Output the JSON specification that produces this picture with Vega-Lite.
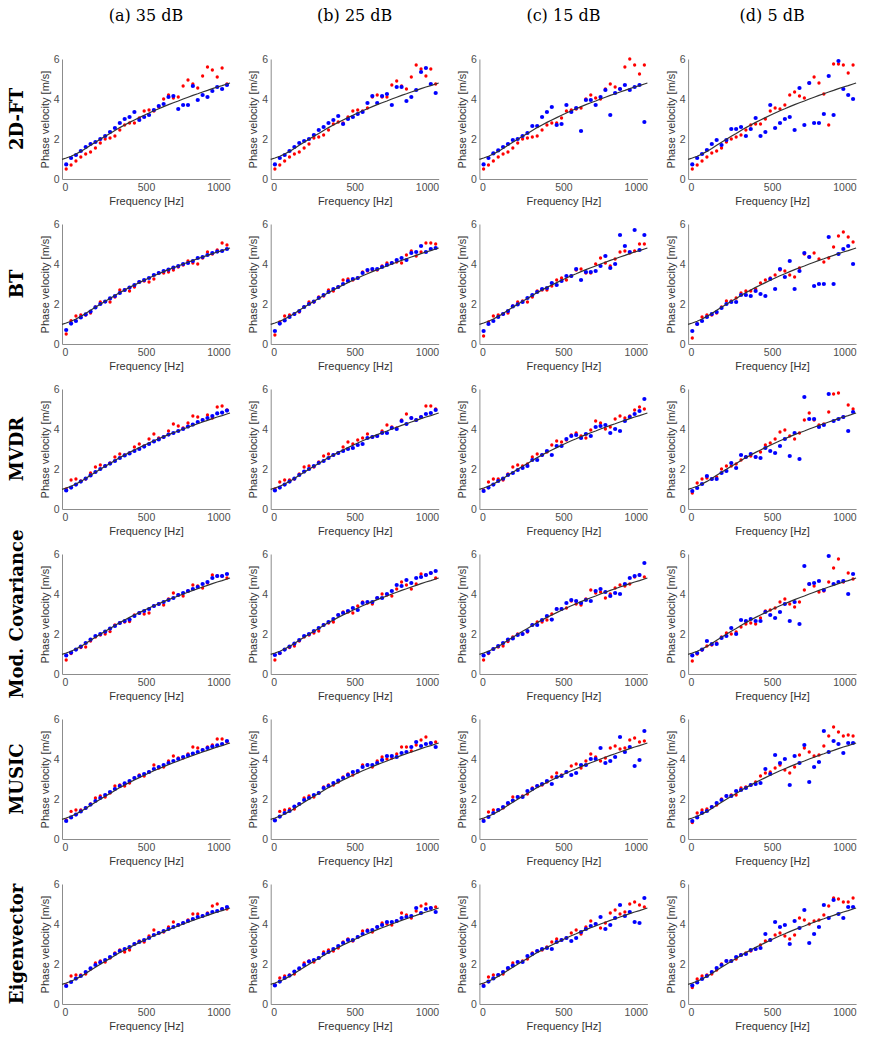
{
"$schema":"https://vega.github.io/schema/vega-lite/v6.json",
"background":"white",
"padding":{"left":8,"top":8,"right":5,"bottom":5},
"datasets":{
"curve":[{"f":0,"c":0.98},{"f":25,"c":1.05},{"f":54,"c":1.14},{"f":83,"c":1.25},{"f":112,"c":1.38},{"f":141,"c":1.53},{"f":170,"c":1.69},{"f":199,"c":1.84},{"f":228,"c":1.99},{"f":257,"c":2.14},{"f":286,"c":2.28},{"f":315,"c":2.43},{"f":344,"c":2.57},{"f":373,"c":2.70},{"f":402,"c":2.83},{"f":431,"c":2.95},{"f":460,"c":3.07},{"f":489,"c":3.19},{"f":518,"c":3.30},{"f":547,"c":3.41},{"f":576,"c":3.51},{"f":605,"c":3.62},{"f":634,"c":3.72},{"f":663,"c":3.81},{"f":692,"c":3.90},{"f":721,"c":4.00},{"f":750,"c":4.09},{"f":779,"c":4.18},{"f":808,"c":4.26},{"f":837,"c":4.35},{"f":866,"c":4.43},{"f":895,"c":4.52},{"f":924,"c":4.60},{"f":953,"c":4.67},{"f":982,"c":4.75},{"f":1000,"c":4.8}],
"pts":[
{"m":1,"s":1,"f":0},{"m":1,"s":1,"f":1000},
{"m":1,"s":1,"f":25,"r":0.5,"b":0.73},{"m":1,"s":1,"f":54,"r":0.7,"b":1.05},{"m":1,"s":1,"f":83,"r":0.9,"b":1.2},{"m":1,"s":1,"f":112,"r":1.1,"b":1.4},{"m":1,"s":1,"f":141,"r":1.25,"b":1.6},{"m":1,"s":1,"f":170,"r":1.35,"b":1.75},{"m":1,"s":1,"f":199,"r":1.55,"b":1.85},{"m":1,"s":1,"f":228,"r":1.8,"b":2.0},{"m":1,"s":1,"f":257,"r":2.0,"b":2.15},{"m":1,"s":1,"f":286,"r":2.05,"b":2.35},{"m":1,"s":1,"f":315,"r":2.15,"b":2.55},{"m":1,"s":1,"f":344,"r":2.45,"b":2.8},{"m":1,"s":1,"f":373,"r":2.7,"b":3.0},{"m":1,"s":1,"f":402,"r":2.8,"b":3.1},{"m":1,"s":1,"f":431,"r":2.8,"b":3.35},{"m":1,"s":1,"f":460,"r":3.05,"b":2.95},{"m":1,"s":1,"f":489,"r":3.4,"b":3.1},{"m":1,"s":1,"f":518,"r":3.45,"b":3.2},{"m":1,"s":1,"f":547,"r":3.4,"b":3.45},{"m":1,"s":1,"f":576,"r":3.6,"b":3.65},{"m":1,"s":1,"f":605,"r":4.0,"b":3.75},{"m":1,"s":1,"f":634,"r":4.2,"b":4.1},{"m":1,"s":1,"f":663,"r":4.05,"b":4.15},{"m":1,"s":1,"f":692,"r":4.1,"b":3.5},{"m":1,"s":1,"f":721,"r":4.65,"b":3.7},{"m":1,"s":1,"f":750,"r":4.95,"b":3.7},{"m":1,"s":1,"f":779,"r":4.75,"b":4.65},{"m":1,"s":1,"f":808,"r":4.55,"b":3.95},{"m":1,"s":1,"f":837,"r":5.15,"b":4.2},{"m":1,"s":1,"f":866,"r":5.6,"b":4.1},{"m":1,"s":1,"f":895,"r":5.45,"b":4.4},{"m":1,"s":1,"f":924,"r":5.1,"b":4.6},{"m":1,"s":1,"f":953,"r":5.55,"b":4.5},{"m":1,"s":1,"f":982,"r":4.75,"b":4.7},
{"m":1,"s":2,"f":0},{"m":1,"s":2,"f":1000},
{"m":1,"s":2,"f":25,"r":0.5,"b":0.73},{"m":1,"s":2,"f":54,"r":0.7,"b":1.05},{"m":1,"s":2,"f":83,"r":0.9,"b":1.2},{"m":1,"s":2,"f":112,"r":1.1,"b":1.4},{"m":1,"s":2,"f":141,"r":1.25,"b":1.6},{"m":1,"s":2,"f":170,"r":1.35,"b":1.8},{"m":1,"s":2,"f":199,"r":1.55,"b":1.9},{"m":1,"s":2,"f":228,"r":1.75,"b":2.0},{"m":1,"s":2,"f":257,"r":2.05,"b":2.2},{"m":1,"s":2,"f":286,"r":2.1,"b":2.45},{"m":1,"s":2,"f":315,"r":2.2,"b":2.6},{"m":1,"s":2,"f":344,"r":2.45,"b":2.8},{"m":1,"s":2,"f":373,"r":2.75,"b":2.95},{"m":1,"s":2,"f":402,"r":2.85,"b":3.15},{"m":1,"s":2,"f":431,"r":2.8,"b":2.75},{"m":1,"s":2,"f":460,"r":3.1,"b":3.0},{"m":1,"s":2,"f":489,"r":3.4,"b":3.1},{"m":1,"s":2,"f":518,"r":3.45,"b":3.25},{"m":1,"s":2,"f":547,"r":3.4,"b":3.35},{"m":1,"s":2,"f":576,"r":3.55,"b":3.8},{"m":1,"s":2,"f":605,"r":4.1,"b":4.15},{"m":1,"s":2,"f":634,"r":4.2,"b":3.8},{"m":1,"s":2,"f":663,"r":4.1,"b":4.15},{"m":1,"s":2,"f":692,"r":4.1,"b":4.25},{"m":1,"s":2,"f":721,"r":4.7,"b":3.7},{"m":1,"s":2,"f":750,"r":4.9,"b":4.6},{"m":1,"s":2,"f":779,"r":4.65,"b":4.6},{"m":1,"s":2,"f":808,"r":4.5,"b":3.9},{"m":1,"s":2,"f":837,"r":5.1,"b":4.1},{"m":1,"s":2,"f":866,"r":5.7,"b":4.45},{"m":1,"s":2,"f":895,"r":5.5,"b":5.35},{"m":1,"s":2,"f":924,"r":5.15,"b":5.55},{"m":1,"s":2,"f":953,"r":5.5,"b":4.75},{"m":1,"s":2,"f":982,"r":4.75,"b":4.3},
{"m":1,"s":3,"f":0},{"m":1,"s":3,"f":1000},
{"m":1,"s":3,"f":25,"r":0.5,"b":0.73},{"m":1,"s":3,"f":54,"r":0.7,"b":1.05},{"m":1,"s":3,"f":83,"r":0.9,"b":1.28},{"m":1,"s":3,"f":112,"r":1.1,"b":1.43},{"m":1,"s":3,"f":141,"r":1.25,"b":1.6},{"m":1,"s":3,"f":170,"r":1.35,"b":1.75},{"m":1,"s":3,"f":199,"r":1.55,"b":1.95},{"m":1,"s":3,"f":228,"r":1.8,"b":2.0},{"m":1,"s":3,"f":257,"r":2.0,"b":2.15},{"m":1,"s":3,"f":286,"r":2.05,"b":2.3},{"m":1,"s":3,"f":315,"r":2.1,"b":2.65},{"m":1,"s":3,"f":344,"r":2.15,"b":2.65},{"m":1,"s":3,"f":373,"r":2.45,"b":3.1},{"m":1,"s":3,"f":402,"r":2.7,"b":3.35},{"m":1,"s":3,"f":431,"r":2.8,"b":3.6},{"m":1,"s":3,"f":460,"r":2.8,"b":2.7},{"m":1,"s":3,"f":489,"r":3.05,"b":2.75},{"m":1,"s":3,"f":518,"r":3.4,"b":3.7},{"m":1,"s":3,"f":547,"r":3.45,"b":3.35},{"m":1,"s":3,"f":576,"r":3.5,"b":3.55},{"m":1,"s":3,"f":605,"r":3.55,"b":2.4},{"m":1,"s":3,"f":634,"r":4.0,"b":3.95},{"m":1,"s":3,"f":663,"r":4.2,"b":3.95},{"m":1,"s":3,"f":692,"r":4.05,"b":3.7},{"m":1,"s":3,"f":721,"r":4.0,"b":4.1},{"m":1,"s":3,"f":750,"r":4.5,"b":4.45},{"m":1,"s":3,"f":779,"r":4.75,"b":3.2},{"m":1,"s":3,"f":808,"r":4.6,"b":4.3},{"m":1,"s":3,"f":837,"r":4.5,"b":4.5},{"m":1,"s":3,"f":866,"r":5.6,"b":4.7},{"m":1,"s":3,"f":895,"r":6.0,"b":4.45},{"m":1,"s":3,"f":924,"r":5.7,"b":4.6},{"m":1,"s":3,"f":953,"r":5.25,"b":4.7},{"m":1,"s":3,"f":982,"r":5.7,"b":2.85},
{"m":1,"s":4,"f":0},{"m":1,"s":4,"f":1000},
{"m":1,"s":4,"f":25,"r":0.5,"b":0.73},{"m":1,"s":4,"f":54,"r":0.7,"b":1.05},{"m":1,"s":4,"f":83,"r":0.9,"b":1.25},{"m":1,"s":4,"f":112,"r":1.1,"b":1.45},{"m":1,"s":4,"f":141,"r":1.3,"b":1.75},{"m":1,"s":4,"f":170,"r":1.4,"b":1.95},{"m":1,"s":4,"f":199,"r":1.55,"b":1.7},{"m":1,"s":4,"f":228,"r":1.85,"b":1.95},{"m":1,"s":4,"f":257,"r":2.0,"b":2.5},{"m":1,"s":4,"f":286,"r":2.1,"b":2.5},{"m":1,"s":4,"f":315,"r":2.2,"b":2.6},{"m":1,"s":4,"f":344,"r":2.45,"b":2.15},{"m":1,"s":4,"f":373,"r":2.7,"b":2.5},{"m":1,"s":4,"f":402,"r":2.75,"b":3.05},{"m":1,"s":4,"f":431,"r":2.75,"b":2.15},{"m":1,"s":4,"f":460,"r":3.0,"b":2.35},{"m":1,"s":4,"f":489,"r":3.4,"b":3.7},{"m":1,"s":4,"f":518,"r":3.55,"b":2.55},{"m":1,"s":4,"f":547,"r":3.5,"b":2.8},{"m":1,"s":4,"f":576,"r":3.7,"b":3.0},{"m":1,"s":4,"f":605,"r":4.2,"b":3.1},{"m":1,"s":4,"f":634,"r":4.35,"b":2.45},{"m":1,"s":4,"f":663,"r":4.15,"b":4.55},{"m":1,"s":4,"f":692,"r":4.05,"b":2.7},{"m":1,"s":4,"f":721,"r":4.8,"b":4.8},{"m":1,"s":4,"f":750,"r":5.1,"b":2.8},{"m":1,"s":4,"f":779,"r":4.8,"b":2.8},{"m":1,"s":4,"f":808,"r":4.25,"b":3.25},{"m":1,"s":4,"f":837,"r":2.7,"b":5.15},{"m":1,"s":4,"f":866,"r":5.75,"b":3.2},{"m":1,"s":4,"f":895,"r":5.75,"b":5.9},{"m":1,"s":4,"f":924,"r":5.7,"b":4.5},{"m":1,"s":4,"f":953,"r":5.3,"b":4.2},{"m":1,"s":4,"f":982,"r":5.7,"b":4.0},
{"m":2,"s":1,"f":0},{"m":2,"s":1,"f":1000},
{"m":2,"s":1,"f":25,"r":0.5,"b":0.7},{"m":2,"s":1,"f":54,"r":1.17,"b":1.02},{"m":2,"s":1,"f":83,"r":1.4,"b":1.15},{"m":2,"s":1,"f":112,"r":1.45,"b":1.33},{"m":2,"s":1,"f":141,"r":1.45,"b":1.48},{"m":2,"s":1,"f":170,"r":1.55,"b":1.62},{"m":2,"s":1,"f":199,"r":1.85,"b":1.83},{"m":2,"s":1,"f":228,"r":2.1,"b":2.0},{"m":2,"s":1,"f":257,"r":2.12,"b":2.12},{"m":2,"s":1,"f":286,"r":2.1,"b":2.28},{"m":2,"s":1,"f":315,"r":2.35,"b":2.4},{"m":2,"s":1,"f":344,"r":2.7,"b":2.55},{"m":2,"s":1,"f":373,"r":2.7,"b":2.7},{"m":2,"s":1,"f":402,"r":2.65,"b":2.82},{"m":2,"s":1,"f":431,"r":2.85,"b":2.95},{"m":2,"s":1,"f":460,"r":3.1,"b":3.1},{"m":2,"s":1,"f":489,"r":3.15,"b":3.2},{"m":2,"s":1,"f":518,"r":3.1,"b":3.3},{"m":2,"s":1,"f":547,"r":3.25,"b":3.45},{"m":2,"s":1,"f":576,"r":3.55,"b":3.55},{"m":2,"s":1,"f":605,"r":3.55,"b":3.65},{"m":2,"s":1,"f":634,"r":3.6,"b":3.72},{"m":2,"s":1,"f":663,"r":3.7,"b":3.82},{"m":2,"s":1,"f":692,"r":3.85,"b":3.9},{"m":2,"s":1,"f":721,"r":3.95,"b":4.0},{"m":2,"s":1,"f":750,"r":4.15,"b":4.05},{"m":2,"s":1,"f":779,"r":4.05,"b":4.15},{"m":2,"s":1,"f":808,"r":4.0,"b":4.3},{"m":2,"s":1,"f":837,"r":4.3,"b":4.35},{"m":2,"s":1,"f":866,"r":4.6,"b":4.45},{"m":2,"s":1,"f":895,"r":4.5,"b":4.55},{"m":2,"s":1,"f":924,"r":4.7,"b":4.62},{"m":2,"s":1,"f":953,"r":5.05,"b":4.65},{"m":2,"s":1,"f":982,"r":4.95,"b":4.75},
{"m":2,"s":2,"f":0},{"m":2,"s":2,"f":1000},
{"m":2,"s":2,"f":25,"r":0.45,"b":0.65},{"m":2,"s":2,"f":54,"r":1.1,"b":1.02},{"m":2,"s":2,"f":83,"r":1.4,"b":1.18},{"m":2,"s":2,"f":112,"r":1.45,"b":1.35},{"m":2,"s":2,"f":141,"r":1.5,"b":1.5},{"m":2,"s":2,"f":170,"r":1.6,"b":1.65},{"m":2,"s":2,"f":199,"r":1.85,"b":1.85},{"m":2,"s":2,"f":228,"r":2.1,"b":2.0},{"m":2,"s":2,"f":257,"r":2.1,"b":2.12},{"m":2,"s":2,"f":286,"r":2.35,"b":2.3},{"m":2,"s":2,"f":315,"r":2.4,"b":2.45},{"m":2,"s":2,"f":344,"r":2.7,"b":2.6},{"m":2,"s":2,"f":373,"r":2.65,"b":2.75},{"m":2,"s":2,"f":402,"r":2.85,"b":2.85},{"m":2,"s":2,"f":431,"r":3.2,"b":3.0},{"m":2,"s":2,"f":460,"r":3.25,"b":3.15},{"m":2,"s":2,"f":489,"r":3.2,"b":3.25},{"m":2,"s":2,"f":518,"r":3.3,"b":3.3},{"m":2,"s":2,"f":547,"r":3.6,"b":3.55},{"m":2,"s":2,"f":576,"r":3.65,"b":3.7},{"m":2,"s":2,"f":605,"r":3.7,"b":3.75},{"m":2,"s":2,"f":634,"r":3.7,"b":3.75},{"m":2,"s":2,"f":663,"r":3.9,"b":3.85},{"m":2,"s":2,"f":692,"r":4.05,"b":3.95},{"m":2,"s":2,"f":721,"r":4.05,"b":4.05},{"m":2,"s":2,"f":750,"r":4.1,"b":4.2},{"m":2,"s":2,"f":779,"r":4.05,"b":4.3},{"m":2,"s":2,"f":808,"r":4.45,"b":4.2},{"m":2,"s":2,"f":837,"r":4.65,"b":4.55},{"m":2,"s":2,"f":866,"r":4.4,"b":4.6},{"m":2,"s":2,"f":895,"r":4.6,"b":4.9},{"m":2,"s":2,"f":924,"r":5.05,"b":4.6},{"m":2,"s":2,"f":953,"r":5.05,"b":4.75},{"m":2,"s":2,"f":982,"r":5.0,"b":4.8},
{"m":2,"s":3,"f":0},{"m":2,"s":3,"f":1000},
{"m":2,"s":3,"f":25,"r":0.4,"b":0.65},{"m":2,"s":3,"f":54,"r":1.1,"b":1.0},{"m":2,"s":3,"f":83,"r":1.4,"b":1.15},{"m":2,"s":3,"f":112,"r":1.45,"b":1.35},{"m":2,"s":3,"f":141,"r":1.5,"b":1.5},{"m":2,"s":3,"f":170,"r":1.55,"b":1.65},{"m":2,"s":3,"f":199,"r":1.9,"b":1.88},{"m":2,"s":3,"f":228,"r":2.1,"b":1.98},{"m":2,"s":3,"f":257,"r":2.15,"b":2.1},{"m":2,"s":3,"f":286,"r":2.1,"b":2.3},{"m":2,"s":3,"f":315,"r":2.35,"b":2.45},{"m":2,"s":3,"f":344,"r":2.65,"b":2.6},{"m":2,"s":3,"f":373,"r":2.7,"b":2.75},{"m":2,"s":3,"f":402,"r":2.7,"b":2.8},{"m":2,"s":3,"f":431,"r":2.9,"b":3.05},{"m":2,"s":3,"f":460,"r":3.2,"b":2.95},{"m":2,"s":3,"f":489,"r":3.3,"b":3.15},{"m":2,"s":3,"f":518,"r":3.2,"b":3.4},{"m":2,"s":3,"f":547,"r":3.4,"b":3.4},{"m":2,"s":3,"f":576,"r":3.7,"b":3.75},{"m":2,"s":3,"f":605,"r":3.75,"b":3.2},{"m":2,"s":3,"f":634,"r":3.55,"b":3.6},{"m":2,"s":3,"f":663,"r":3.55,"b":3.6},{"m":2,"s":3,"f":692,"r":4.0,"b":3.65},{"m":2,"s":3,"f":721,"r":4.3,"b":3.9},{"m":2,"s":3,"f":750,"r":4.05,"b":4.4},{"m":2,"s":3,"f":779,"r":3.9,"b":3.8},{"m":2,"s":3,"f":808,"r":4.25,"b":4.0},{"m":2,"s":3,"f":837,"r":4.6,"b":5.45},{"m":2,"s":3,"f":866,"r":4.65,"b":4.9},{"m":2,"s":3,"f":895,"r":4.55,"b":4.6},{"m":2,"s":3,"f":924,"r":4.65,"b":5.7},{"m":2,"s":3,"f":953,"r":5.0,"b":4.7},{"m":2,"s":3,"f":982,"r":5.0,"b":5.45},
{"m":2,"s":4,"f":0},{"m":2,"s":4,"f":1000},
{"m":2,"s":4,"f":25,"r":0.3,"b":0.65},{"m":2,"s":4,"f":54,"r":1.0,"b":1.0},{"m":2,"s":4,"f":83,"r":1.35,"b":1.15},{"m":2,"s":4,"f":112,"r":1.45,"b":1.35},{"m":2,"s":4,"f":141,"r":1.45,"b":1.5},{"m":2,"s":4,"f":170,"r":1.55,"b":1.6},{"m":2,"s":4,"f":199,"r":1.85,"b":1.8},{"m":2,"s":4,"f":228,"r":2.15,"b":2.0},{"m":2,"s":4,"f":257,"r":2.15,"b":2.1},{"m":2,"s":4,"f":286,"r":2.3,"b":2.1},{"m":2,"s":4,"f":315,"r":2.55,"b":2.45},{"m":2,"s":4,"f":344,"r":2.65,"b":2.45},{"m":2,"s":4,"f":373,"r":2.65,"b":2.4},{"m":2,"s":4,"f":402,"r":2.75,"b":2.65},{"m":2,"s":4,"f":431,"r":3.05,"b":2.5},{"m":2,"s":4,"f":460,"r":3.2,"b":2.4},{"m":2,"s":4,"f":489,"r":3.3,"b":3.25},{"m":2,"s":4,"f":518,"r":3.45,"b":2.75},{"m":2,"s":4,"f":547,"r":3.7,"b":3.75},{"m":2,"s":4,"f":576,"r":3.65,"b":3.35},{"m":2,"s":4,"f":605,"r":3.45,"b":4.15},{"m":2,"s":4,"f":634,"r":3.35,"b":2.75},{"m":2,"s":4,"f":663,"r":3.8,"b":3.65},{"m":2,"s":4,"f":692,"r":4.5,"b":4.55},{"m":2,"s":4,"f":721,"r":4.35,"b":4.35},{"m":2,"s":4,"f":750,"r":4.55,"b":2.9},{"m":2,"s":4,"f":779,"r":4.25,"b":3.0},{"m":2,"s":4,"f":808,"r":4.1,"b":3.0},{"m":2,"s":4,"f":837,"r":4.3,"b":5.35},{"m":2,"s":4,"f":866,"r":4.85,"b":3.0},{"m":2,"s":4,"f":895,"r":5.4,"b":4.5},{"m":2,"s":4,"f":924,"r":5.6,"b":4.75},{"m":2,"s":4,"f":953,"r":5.35,"b":4.9},{"m":2,"s":4,"f":982,"r":5.1,"b":4.0},
{"m":3,"s":1,"f":0},{"m":3,"s":1,"f":1000},
{"m":3,"s":1,"f":25,"r":1.0,"b":0.93},{"m":3,"s":1,"f":54,"r":1.45,"b":1.07},{"m":3,"s":1,"f":83,"r":1.5,"b":1.22},{"m":3,"s":1,"f":112,"r":1.4,"b":1.37},{"m":3,"s":1,"f":141,"r":1.5,"b":1.52},{"m":3,"s":1,"f":170,"r":1.8,"b":1.68},{"m":3,"s":1,"f":199,"r":2.1,"b":1.85},{"m":3,"s":1,"f":228,"r":2.2,"b":2.0},{"m":3,"s":1,"f":257,"r":2.15,"b":2.15},{"m":3,"s":1,"f":286,"r":2.3,"b":2.27},{"m":3,"s":1,"f":315,"r":2.6,"b":2.4},{"m":3,"s":1,"f":344,"r":2.75,"b":2.55},{"m":3,"s":1,"f":373,"r":2.7,"b":2.68},{"m":3,"s":1,"f":402,"r":2.8,"b":2.78},{"m":3,"s":1,"f":431,"r":3.1,"b":2.9},{"m":3,"s":1,"f":460,"r":3.25,"b":3.0},{"m":3,"s":1,"f":489,"r":3.15,"b":3.12},{"m":3,"s":1,"f":518,"r":3.5,"b":3.25},{"m":3,"s":1,"f":547,"r":3.75,"b":3.38},{"m":3,"s":1,"f":576,"r":3.55,"b":3.48},{"m":3,"s":1,"f":605,"r":3.6,"b":3.6},{"m":3,"s":1,"f":634,"r":3.9,"b":3.72},{"m":3,"s":1,"f":663,"r":4.25,"b":3.8},{"m":3,"s":1,"f":692,"r":4.15,"b":3.9},{"m":3,"s":1,"f":721,"r":4.05,"b":4.0},{"m":3,"s":1,"f":750,"r":4.3,"b":4.12},{"m":3,"s":1,"f":779,"r":4.65,"b":4.22},{"m":3,"s":1,"f":808,"r":4.6,"b":4.35},{"m":3,"s":1,"f":837,"r":4.45,"b":4.45},{"m":3,"s":1,"f":866,"r":4.7,"b":4.55},{"m":3,"s":1,"f":895,"r":4.55,"b":4.65},{"m":3,"s":1,"f":924,"r":5.1,"b":4.78},{"m":3,"s":1,"f":953,"r":5.15,"b":4.82},{"m":3,"s":1,"f":982,"r":4.95,"b":4.92},
{"m":3,"s":2,"f":0},{"m":3,"s":2,"f":1000},
{"m":3,"s":2,"f":25,"r":1.0,"b":0.93},{"m":3,"s":2,"f":54,"r":1.35,"b":1.07},{"m":3,"s":2,"f":83,"r":1.45,"b":1.22},{"m":3,"s":2,"f":112,"r":1.45,"b":1.37},{"m":3,"s":2,"f":141,"r":1.5,"b":1.52},{"m":3,"s":2,"f":170,"r":1.75,"b":1.7},{"m":3,"s":2,"f":199,"r":2.1,"b":1.87},{"m":3,"s":2,"f":228,"r":2.15,"b":2.0},{"m":3,"s":2,"f":257,"r":2.1,"b":2.15},{"m":3,"s":2,"f":286,"r":2.35,"b":2.3},{"m":3,"s":2,"f":315,"r":2.65,"b":2.4},{"m":3,"s":2,"f":344,"r":2.75,"b":2.55},{"m":3,"s":2,"f":373,"r":2.7,"b":2.7},{"m":3,"s":2,"f":402,"r":2.8,"b":2.8},{"m":3,"s":2,"f":431,"r":3.1,"b":2.9},{"m":3,"s":2,"f":460,"r":3.35,"b":3.0},{"m":3,"s":2,"f":489,"r":3.25,"b":3.05},{"m":3,"s":2,"f":518,"r":3.45,"b":3.2},{"m":3,"s":2,"f":547,"r":3.55,"b":3.25},{"m":3,"s":2,"f":576,"r":3.75,"b":3.55},{"m":3,"s":2,"f":605,"r":3.6,"b":3.6},{"m":3,"s":2,"f":634,"r":3.65,"b":3.65},{"m":3,"s":2,"f":663,"r":3.9,"b":3.8},{"m":3,"s":2,"f":692,"r":4.2,"b":3.8},{"m":3,"s":2,"f":721,"r":4.1,"b":4.05},{"m":3,"s":2,"f":750,"r":4.05,"b":4.0},{"m":3,"s":2,"f":779,"r":4.45,"b":4.4},{"m":3,"s":2,"f":808,"r":4.75,"b":4.25},{"m":3,"s":2,"f":837,"r":4.55,"b":4.55},{"m":3,"s":2,"f":866,"r":4.45,"b":4.45},{"m":3,"s":2,"f":895,"r":4.6,"b":4.6},{"m":3,"s":2,"f":924,"r":5.15,"b":4.75},{"m":3,"s":2,"f":953,"r":5.15,"b":4.8},{"m":3,"s":2,"f":982,"r":5.0,"b":4.95},
{"m":3,"s":3,"f":0},{"m":3,"s":3,"f":1000},
{"m":3,"s":3,"f":25,"r":0.95,"b":0.9},{"m":3,"s":3,"f":54,"r":1.35,"b":1.07},{"m":3,"s":3,"f":83,"r":1.5,"b":1.22},{"m":3,"s":3,"f":112,"r":1.5,"b":1.4},{"m":3,"s":3,"f":141,"r":1.45,"b":1.52},{"m":3,"s":3,"f":170,"r":1.75,"b":1.7},{"m":3,"s":3,"f":199,"r":2.1,"b":1.8},{"m":3,"s":3,"f":228,"r":2.2,"b":1.95},{"m":3,"s":3,"f":257,"r":2.15,"b":2.05},{"m":3,"s":3,"f":286,"r":2.25,"b":2.15},{"m":3,"s":3,"f":315,"r":2.6,"b":2.45},{"m":3,"s":3,"f":344,"r":2.75,"b":2.45},{"m":3,"s":3,"f":373,"r":2.7,"b":2.7},{"m":3,"s":3,"f":402,"r":2.85,"b":2.9},{"m":3,"s":3,"f":431,"r":3.2,"b":2.7},{"m":3,"s":3,"f":460,"r":3.4,"b":3.15},{"m":3,"s":3,"f":489,"r":3.35,"b":3.15},{"m":3,"s":3,"f":518,"r":3.45,"b":3.5},{"m":3,"s":3,"f":547,"r":3.7,"b":3.65},{"m":3,"s":3,"f":576,"r":3.8,"b":3.7},{"m":3,"s":3,"f":605,"r":3.65,"b":3.55},{"m":3,"s":3,"f":634,"r":3.55,"b":3.75},{"m":3,"s":3,"f":663,"r":3.95,"b":3.65},{"m":3,"s":3,"f":692,"r":4.4,"b":4.1},{"m":3,"s":3,"f":721,"r":4.3,"b":4.15},{"m":3,"s":3,"f":750,"r":4.0,"b":4.2},{"m":3,"s":3,"f":779,"r":4.1,"b":3.8},{"m":3,"s":3,"f":808,"r":4.5,"b":4.0},{"m":3,"s":3,"f":837,"r":4.65,"b":3.9},{"m":3,"s":3,"f":866,"r":4.55,"b":4.4},{"m":3,"s":3,"f":895,"r":4.65,"b":4.6},{"m":3,"s":3,"f":924,"r":4.95,"b":4.75},{"m":3,"s":3,"f":953,"r":5.1,"b":4.9},{"m":3,"s":3,"f":982,"r":5.0,"b":5.5},
{"m":3,"s":4,"f":0},{"m":3,"s":4,"f":1000},
{"m":3,"s":4,"f":25,"r":0.8,"b":0.9},{"m":3,"s":4,"f":54,"r":1.3,"b":1.05},{"m":3,"s":4,"f":83,"r":1.5,"b":1.25},{"m":3,"s":4,"f":112,"r":1.55,"b":1.65},{"m":3,"s":4,"f":141,"r":1.5,"b":1.5},{"m":3,"s":4,"f":170,"r":1.6,"b":1.5},{"m":3,"s":4,"f":199,"r":2.0,"b":1.8},{"m":3,"s":4,"f":228,"r":2.15,"b":1.9},{"m":3,"s":4,"f":257,"r":2.15,"b":2.3},{"m":3,"s":4,"f":286,"r":2.25,"b":2.05},{"m":3,"s":4,"f":315,"r":2.45,"b":2.7},{"m":3,"s":4,"f":344,"r":2.6,"b":2.6},{"m":3,"s":4,"f":373,"r":2.65,"b":2.75},{"m":3,"s":4,"f":402,"r":2.6,"b":2.6},{"m":3,"s":4,"f":431,"r":2.85,"b":2.55},{"m":3,"s":4,"f":460,"r":3.2,"b":3.05},{"m":3,"s":4,"f":489,"r":3.3,"b":2.9},{"m":3,"s":4,"f":518,"r":3.5,"b":2.8},{"m":3,"s":4,"f":547,"r":3.85,"b":3.15},{"m":3,"s":4,"f":576,"r":3.95,"b":3.5},{"m":3,"s":4,"f":605,"r":3.65,"b":2.65},{"m":3,"s":4,"f":634,"r":3.5,"b":3.8},{"m":3,"s":4,"f":663,"r":3.8,"b":2.5},{"m":3,"s":4,"f":692,"r":4.45,"b":5.6},{"m":3,"s":4,"f":721,"r":4.8,"b":4.5},{"m":3,"s":4,"f":750,"r":4.45,"b":4.5},{"m":3,"s":4,"f":779,"r":4.2,"b":4.1},{"m":3,"s":4,"f":808,"r":4.25,"b":4.2},{"m":3,"s":4,"f":837,"r":4.85,"b":5.75},{"m":3,"s":4,"f":866,"r":5.75,"b":4.4},{"m":3,"s":4,"f":895,"r":5.8,"b":4.5},{"m":3,"s":4,"f":924,"r":4.6,"b":4.6},{"m":3,"s":4,"f":953,"r":5.2,"b":3.9},{"m":3,"s":4,"f":982,"r":5.0,"b":4.85},
{"m":4,"s":1,"f":0},{"m":4,"s":1,"f":1000},
{"m":4,"s":1,"f":25,"r":0.7,"b":0.93},{"m":4,"s":1,"f":54,"r":1.02,"b":1.07},{"m":4,"s":1,"f":83,"r":1.22,"b":1.22},{"m":4,"s":1,"f":112,"r":1.32,"b":1.37},{"m":4,"s":1,"f":141,"r":1.35,"b":1.55},{"m":4,"s":1,"f":170,"r":1.65,"b":1.72},{"m":4,"s":1,"f":199,"r":1.85,"b":1.9},{"m":4,"s":1,"f":228,"r":1.95,"b":2.0},{"m":4,"s":1,"f":257,"r":2.0,"b":2.12},{"m":4,"s":1,"f":286,"r":2.12,"b":2.27},{"m":4,"s":1,"f":315,"r":2.45,"b":2.4},{"m":4,"s":1,"f":344,"r":2.55,"b":2.55},{"m":4,"s":1,"f":373,"r":2.6,"b":2.65},{"m":4,"s":1,"f":402,"r":2.62,"b":2.72},{"m":4,"s":1,"f":431,"r":2.95,"b":2.9},{"m":4,"s":1,"f":460,"r":3.05,"b":3.05},{"m":4,"s":1,"f":489,"r":3.0,"b":3.15},{"m":4,"s":1,"f":518,"r":3.05,"b":3.25},{"m":4,"s":1,"f":547,"r":3.4,"b":3.4},{"m":4,"s":1,"f":576,"r":3.5,"b":3.5},{"m":4,"s":1,"f":605,"r":3.45,"b":3.6},{"m":4,"s":1,"f":634,"r":3.75,"b":3.7},{"m":4,"s":1,"f":663,"r":4.05,"b":3.8},{"m":4,"s":1,"f":692,"r":3.95,"b":3.95},{"m":4,"s":1,"f":721,"r":3.9,"b":4.05},{"m":4,"s":1,"f":750,"r":4.15,"b":4.15},{"m":4,"s":1,"f":779,"r":4.45,"b":4.25},{"m":4,"s":1,"f":808,"r":4.4,"b":4.35},{"m":4,"s":1,"f":837,"r":4.3,"b":4.5},{"m":4,"s":1,"f":866,"r":4.55,"b":4.6},{"m":4,"s":1,"f":895,"r":4.95,"b":4.8},{"m":4,"s":1,"f":924,"r":4.9,"b":4.9},{"m":4,"s":1,"f":953,"r":4.9,"b":4.9},{"m":4,"s":1,"f":982,"r":4.8,"b":5.0},
{"m":4,"s":2,"f":0},{"m":4,"s":2,"f":1000},
{"m":4,"s":2,"f":25,"r":0.7,"b":0.95},{"m":4,"s":2,"f":54,"r":1.02,"b":1.05},{"m":4,"s":2,"f":83,"r":1.22,"b":1.22},{"m":4,"s":2,"f":112,"r":1.32,"b":1.37},{"m":4,"s":2,"f":141,"r":1.4,"b":1.52},{"m":4,"s":2,"f":170,"r":1.65,"b":1.7},{"m":4,"s":2,"f":199,"r":1.85,"b":1.9},{"m":4,"s":2,"f":228,"r":1.95,"b":2.0},{"m":4,"s":2,"f":257,"r":2.05,"b":2.15},{"m":4,"s":2,"f":286,"r":2.15,"b":2.3},{"m":4,"s":2,"f":315,"r":2.45,"b":2.45},{"m":4,"s":2,"f":344,"r":2.55,"b":2.6},{"m":4,"s":2,"f":373,"r":2.6,"b":2.75},{"m":4,"s":2,"f":402,"r":2.95,"b":2.95},{"m":4,"s":2,"f":431,"r":3.1,"b":3.05},{"m":4,"s":2,"f":460,"r":3.1,"b":3.15},{"m":4,"s":2,"f":489,"r":3.05,"b":3.3},{"m":4,"s":2,"f":518,"r":3.4,"b":3.2},{"m":4,"s":2,"f":547,"r":3.6,"b":3.55},{"m":4,"s":2,"f":576,"r":3.55,"b":3.6},{"m":4,"s":2,"f":605,"r":3.5,"b":3.6},{"m":4,"s":2,"f":634,"r":3.8,"b":3.8},{"m":4,"s":2,"f":663,"r":4.0,"b":3.8},{"m":4,"s":2,"f":692,"r":3.95,"b":4.0},{"m":4,"s":2,"f":721,"r":3.9,"b":4.15},{"m":4,"s":2,"f":750,"r":4.25,"b":4.45},{"m":4,"s":2,"f":779,"r":4.6,"b":4.4},{"m":4,"s":2,"f":808,"r":4.45,"b":4.7},{"m":4,"s":2,"f":837,"r":4.25,"b":4.55},{"m":4,"s":2,"f":866,"r":4.5,"b":4.8},{"m":4,"s":2,"f":895,"r":5.0,"b":4.85},{"m":4,"s":2,"f":924,"r":4.95,"b":4.95},{"m":4,"s":2,"f":953,"r":5.05,"b":5.05},{"m":4,"s":2,"f":982,"r":4.8,"b":5.15},
{"m":4,"s":3,"f":0},{"m":4,"s":3,"f":1000},
{"m":4,"s":3,"f":25,"r":0.7,"b":0.93},{"m":4,"s":3,"f":54,"r":1.02,"b":1.07},{"m":4,"s":3,"f":83,"r":1.25,"b":1.25},{"m":4,"s":3,"f":112,"r":1.35,"b":1.4},{"m":4,"s":3,"f":141,"r":1.4,"b":1.55},{"m":4,"s":3,"f":170,"r":1.62,"b":1.72},{"m":4,"s":3,"f":199,"r":1.85,"b":1.78},{"m":4,"s":3,"f":228,"r":2.0,"b":1.95},{"m":4,"s":3,"f":257,"r":2.0,"b":2.0},{"m":4,"s":3,"f":286,"r":2.1,"b":2.15},{"m":4,"s":3,"f":315,"r":2.45,"b":2.45},{"m":4,"s":3,"f":344,"r":2.6,"b":2.45},{"m":4,"s":3,"f":373,"r":2.6,"b":2.7},{"m":4,"s":3,"f":402,"r":2.7,"b":2.9},{"m":4,"s":3,"f":431,"r":3.0,"b":2.72},{"m":4,"s":3,"f":460,"r":3.25,"b":3.25},{"m":4,"s":3,"f":489,"r":3.25,"b":3.25},{"m":4,"s":3,"f":518,"r":3.3,"b":3.55},{"m":4,"s":3,"f":547,"r":3.65,"b":3.7},{"m":4,"s":3,"f":576,"r":3.5,"b":3.65},{"m":4,"s":3,"f":605,"r":3.45,"b":3.55},{"m":4,"s":3,"f":634,"r":3.75,"b":3.7},{"m":4,"s":3,"f":663,"r":4.2,"b":3.65},{"m":4,"s":3,"f":692,"r":4.05,"b":4.15},{"m":4,"s":3,"f":721,"r":4.1,"b":4.25},{"m":4,"s":3,"f":750,"r":3.8,"b":4.1},{"m":4,"s":3,"f":779,"r":4.0,"b":3.9},{"m":4,"s":3,"f":808,"r":4.3,"b":4.05},{"m":4,"s":3,"f":837,"r":4.45,"b":4.0},{"m":4,"s":3,"f":866,"r":4.4,"b":4.5},{"m":4,"s":3,"f":895,"r":4.5,"b":4.8},{"m":4,"s":3,"f":924,"r":4.85,"b":4.9},{"m":4,"s":3,"f":953,"r":4.95,"b":4.95},{"m":4,"s":3,"f":982,"r":4.85,"b":5.55},
{"m":4,"s":4,"f":0},{"m":4,"s":4,"f":1000},
{"m":4,"s":4,"f":25,"r":0.65,"b":0.93},{"m":4,"s":4,"f":54,"r":1.0,"b":1.05},{"m":4,"s":4,"f":83,"r":1.2,"b":1.22},{"m":4,"s":4,"f":112,"r":1.4,"b":1.65},{"m":4,"s":4,"f":141,"r":1.45,"b":1.5},{"m":4,"s":4,"f":170,"r":1.55,"b":1.5},{"m":4,"s":4,"f":199,"r":1.85,"b":1.8},{"m":4,"s":4,"f":228,"r":2.05,"b":1.9},{"m":4,"s":4,"f":257,"r":2.0,"b":2.3},{"m":4,"s":4,"f":286,"r":2.1,"b":2.0},{"m":4,"s":4,"f":315,"r":2.35,"b":2.7},{"m":4,"s":4,"f":344,"r":2.5,"b":2.65},{"m":4,"s":4,"f":373,"r":2.55,"b":2.75},{"m":4,"s":4,"f":402,"r":2.5,"b":2.65},{"m":4,"s":4,"f":431,"r":2.8,"b":2.65},{"m":4,"s":4,"f":460,"r":3.15,"b":3.1},{"m":4,"s":4,"f":489,"r":3.2,"b":2.95},{"m":4,"s":4,"f":518,"r":3.3,"b":2.8},{"m":4,"s":4,"f":547,"r":3.6,"b":3.1},{"m":4,"s":4,"f":576,"r":3.75,"b":3.5},{"m":4,"s":4,"f":605,"r":3.5,"b":2.65},{"m":4,"s":4,"f":634,"r":3.35,"b":3.6},{"m":4,"s":4,"f":663,"r":3.6,"b":2.5},{"m":4,"s":4,"f":692,"r":4.2,"b":5.4},{"m":4,"s":4,"f":721,"r":4.5,"b":4.5},{"m":4,"s":4,"f":750,"r":4.4,"b":4.55},{"m":4,"s":4,"f":779,"r":4.1,"b":4.65},{"m":4,"s":4,"f":808,"r":4.15,"b":4.2},{"m":4,"s":4,"f":837,"r":4.6,"b":5.9},{"m":4,"s":4,"f":866,"r":5.3,"b":4.5},{"m":4,"s":4,"f":895,"r":5.75,"b":4.6},{"m":4,"s":4,"f":924,"r":4.6,"b":4.65},{"m":4,"s":4,"f":953,"r":5.05,"b":4.0},{"m":4,"s":4,"f":982,"r":4.75,"b":5.0},
{"m":5,"s":1,"f":0},{"m":5,"s":1,"f":1000},
{"m":5,"s":1,"f":25,"r":0.95,"b":0.9},{"m":5,"s":1,"f":54,"r":1.38,"b":1.08},{"m":5,"s":1,"f":83,"r":1.45,"b":1.22},{"m":5,"s":1,"f":112,"r":1.45,"b":1.38},{"m":5,"s":1,"f":141,"r":1.55,"b":1.55},{"m":5,"s":1,"f":170,"r":1.75,"b":1.72},{"m":5,"s":1,"f":199,"r":2.05,"b":1.9},{"m":5,"s":1,"f":228,"r":2.15,"b":2.05},{"m":5,"s":1,"f":257,"r":2.1,"b":2.2},{"m":5,"s":1,"f":286,"r":2.3,"b":2.35},{"m":5,"s":1,"f":315,"r":2.65,"b":2.5},{"m":5,"s":1,"f":344,"r":2.7,"b":2.65},{"m":5,"s":1,"f":373,"r":2.65,"b":2.78},{"m":5,"s":1,"f":402,"r":2.8,"b":2.9},{"m":5,"s":1,"f":431,"r":3.05,"b":3.05},{"m":5,"s":1,"f":460,"r":3.2,"b":3.15},{"m":5,"s":1,"f":489,"r":3.15,"b":3.25},{"m":5,"s":1,"f":518,"r":3.35,"b":3.35},{"m":5,"s":1,"f":547,"r":3.7,"b":3.5},{"m":5,"s":1,"f":576,"r":3.55,"b":3.6},{"m":5,"s":1,"f":605,"r":3.6,"b":3.7},{"m":5,"s":1,"f":634,"r":3.9,"b":3.8},{"m":5,"s":1,"f":663,"r":4.15,"b":3.9},{"m":5,"s":1,"f":692,"r":4.05,"b":4.0},{"m":5,"s":1,"f":721,"r":4.05,"b":4.1},{"m":5,"s":1,"f":750,"r":4.25,"b":4.18},{"m":5,"s":1,"f":779,"r":4.6,"b":4.27},{"m":5,"s":1,"f":808,"r":4.55,"b":4.35},{"m":5,"s":1,"f":837,"r":4.45,"b":4.45},{"m":5,"s":1,"f":866,"r":4.6,"b":4.55},{"m":5,"s":1,"f":895,"r":4.7,"b":4.62},{"m":5,"s":1,"f":924,"r":5.0,"b":4.68},{"m":5,"s":1,"f":953,"r":5.0,"b":4.75},{"m":5,"s":1,"f":982,"r":4.85,"b":4.9},
{"m":5,"s":2,"f":0},{"m":5,"s":2,"f":1000},
{"m":5,"s":2,"f":25,"r":0.95,"b":0.93},{"m":5,"s":2,"f":54,"r":1.38,"b":1.12},{"m":5,"s":2,"f":83,"r":1.45,"b":1.3},{"m":5,"s":2,"f":112,"r":1.5,"b":1.4},{"m":5,"s":2,"f":141,"r":1.5,"b":1.62},{"m":5,"s":2,"f":170,"r":1.75,"b":1.75},{"m":5,"s":2,"f":199,"r":2.05,"b":1.95},{"m":5,"s":2,"f":228,"r":2.15,"b":2.05},{"m":5,"s":2,"f":257,"r":2.1,"b":2.2},{"m":5,"s":2,"f":286,"r":2.3,"b":2.3},{"m":5,"s":2,"f":315,"r":2.6,"b":2.55},{"m":5,"s":2,"f":344,"r":2.7,"b":2.65},{"m":5,"s":2,"f":373,"r":2.7,"b":2.8},{"m":5,"s":2,"f":402,"r":2.85,"b":2.92},{"m":5,"s":2,"f":431,"r":3.1,"b":3.05},{"m":5,"s":2,"f":460,"r":3.25,"b":3.2},{"m":5,"s":2,"f":489,"r":3.2,"b":3.35},{"m":5,"s":2,"f":518,"r":3.35,"b":3.4},{"m":5,"s":2,"f":547,"r":3.7,"b":3.6},{"m":5,"s":2,"f":576,"r":3.7,"b":3.7},{"m":5,"s":2,"f":605,"r":3.6,"b":3.7},{"m":5,"s":2,"f":634,"r":3.9,"b":3.8},{"m":5,"s":2,"f":663,"r":4.1,"b":3.95},{"m":5,"s":2,"f":692,"r":4.0,"b":4.15},{"m":5,"s":2,"f":721,"r":4.05,"b":4.15},{"m":5,"s":2,"f":750,"r":4.25,"b":4.1},{"m":5,"s":2,"f":779,"r":4.6,"b":4.3},{"m":5,"s":2,"f":808,"r":4.6,"b":4.35},{"m":5,"s":2,"f":837,"r":4.4,"b":4.6},{"m":5,"s":2,"f":866,"r":4.7,"b":4.85},{"m":5,"s":2,"f":895,"r":4.95,"b":4.65},{"m":5,"s":2,"f":924,"r":5.1,"b":4.75},{"m":5,"s":2,"f":953,"r":4.8,"b":4.8},{"m":5,"s":2,"f":982,"r":4.85,"b":4.6},
{"m":5,"s":3,"f":0},{"m":5,"s":3,"f":1000},
{"m":5,"s":3,"f":25,"r":0.95,"b":0.9},{"m":5,"s":3,"f":54,"r":1.35,"b":1.1},{"m":5,"s":3,"f":83,"r":1.45,"b":1.3},{"m":5,"s":3,"f":112,"r":1.45,"b":1.45},{"m":5,"s":3,"f":141,"r":1.55,"b":1.6},{"m":5,"s":3,"f":170,"r":1.75,"b":1.8},{"m":5,"s":3,"f":199,"r":2.1,"b":1.92},{"m":5,"s":3,"f":228,"r":2.1,"b":2.1},{"m":5,"s":3,"f":257,"r":2.15,"b":2.1},{"m":5,"s":3,"f":286,"r":2.25,"b":2.4},{"m":5,"s":3,"f":315,"r":2.55,"b":2.5},{"m":5,"s":3,"f":344,"r":2.65,"b":2.65},{"m":5,"s":3,"f":373,"r":2.7,"b":2.75},{"m":5,"s":3,"f":402,"r":2.85,"b":2.9},{"m":5,"s":3,"f":431,"r":3.1,"b":2.75},{"m":5,"s":3,"f":460,"r":3.3,"b":3.1},{"m":5,"s":3,"f":489,"r":3.2,"b":3.15},{"m":5,"s":3,"f":518,"r":3.35,"b":3.35},{"m":5,"s":3,"f":547,"r":3.65,"b":3.2},{"m":5,"s":3,"f":576,"r":3.75,"b":3.3},{"m":5,"s":3,"f":605,"r":3.55,"b":3.7},{"m":5,"s":3,"f":634,"r":3.9,"b":3.7},{"m":5,"s":3,"f":663,"r":4.25,"b":4.0},{"m":5,"s":3,"f":692,"r":4.1,"b":4.0},{"m":5,"s":3,"f":721,"r":3.9,"b":4.55},{"m":5,"s":3,"f":750,"r":4.05,"b":3.8},{"m":5,"s":3,"f":779,"r":4.55,"b":3.9},{"m":5,"s":3,"f":808,"r":4.65,"b":4.1},{"m":5,"s":3,"f":837,"r":4.5,"b":5.1},{"m":5,"s":3,"f":866,"r":4.55,"b":4.35},{"m":5,"s":3,"f":895,"r":4.95,"b":4.6},{"m":5,"s":3,"f":924,"r":5.05,"b":3.65},{"m":5,"s":3,"f":953,"r":4.85,"b":3.95},{"m":5,"s":3,"f":982,"r":4.9,"b":5.4},
{"m":5,"s":4,"f":0},{"m":5,"s":4,"f":1000},
{"m":5,"s":4,"f":25,"r":0.82,"b":0.9},{"m":5,"s":4,"f":54,"r":1.3,"b":1.08},{"m":5,"s":4,"f":83,"r":1.45,"b":1.3},{"m":5,"s":4,"f":112,"r":1.5,"b":1.4},{"m":5,"s":4,"f":141,"r":1.6,"b":1.6},{"m":5,"s":4,"f":170,"r":1.7,"b":1.8},{"m":5,"s":4,"f":199,"r":2.0,"b":1.95},{"m":5,"s":4,"f":228,"r":2.15,"b":2.15},{"m":5,"s":4,"f":257,"r":2.2,"b":2.15},{"m":5,"s":4,"f":286,"r":2.2,"b":2.4},{"m":5,"s":4,"f":315,"r":2.55,"b":2.45},{"m":5,"s":4,"f":344,"r":2.6,"b":2.55},{"m":5,"s":4,"f":373,"r":2.7,"b":2.7},{"m":5,"s":4,"f":402,"r":2.85,"b":2.75},{"m":5,"s":4,"f":431,"r":3.15,"b":2.8},{"m":5,"s":4,"f":460,"r":3.3,"b":3.5},{"m":5,"s":4,"f":489,"r":3.35,"b":3.25},{"m":5,"s":4,"f":518,"r":3.55,"b":4.2},{"m":5,"s":4,"f":547,"r":3.7,"b":3.8},{"m":5,"s":4,"f":576,"r":3.45,"b":4.0},{"m":5,"s":4,"f":605,"r":3.3,"b":2.7},{"m":5,"s":4,"f":634,"r":3.6,"b":4.15},{"m":5,"s":4,"f":663,"r":4.2,"b":3.8},{"m":5,"s":4,"f":692,"r":4.55,"b":4.7},{"m":5,"s":4,"f":721,"r":4.35,"b":2.85},{"m":5,"s":4,"f":750,"r":4.15,"b":3.6},{"m":5,"s":4,"f":779,"r":4.2,"b":3.85},{"m":5,"s":4,"f":808,"r":4.65,"b":5.4},{"m":5,"s":4,"f":837,"r":5.15,"b":4.35},{"m":5,"s":4,"f":866,"r":5.6,"b":4.9},{"m":5,"s":4,"f":895,"r":5.35,"b":4.75},{"m":5,"s":4,"f":924,"r":5.15,"b":4.3},{"m":5,"s":4,"f":953,"r":5.2,"b":4.8},{"m":5,"s":4,"f":982,"r":5.15,"b":4.8},
{"m":6,"s":1,"f":0},{"m":6,"s":1,"f":1000},
{"m":6,"s":1,"f":25,"r":0.95,"b":0.9},{"m":6,"s":1,"f":54,"r":1.4,"b":1.1},{"m":6,"s":1,"f":83,"r":1.45,"b":1.27},{"m":6,"s":1,"f":112,"r":1.45,"b":1.4},{"m":6,"s":1,"f":141,"r":1.5,"b":1.6},{"m":6,"s":1,"f":170,"r":1.75,"b":1.78},{"m":6,"s":1,"f":199,"r":2.05,"b":1.95},{"m":6,"s":1,"f":228,"r":2.15,"b":2.08},{"m":6,"s":1,"f":257,"r":2.1,"b":2.2},{"m":6,"s":1,"f":286,"r":2.3,"b":2.35},{"m":6,"s":1,"f":315,"r":2.55,"b":2.5},{"m":6,"s":1,"f":344,"r":2.7,"b":2.65},{"m":6,"s":1,"f":373,"r":2.6,"b":2.75},{"m":6,"s":1,"f":402,"r":2.7,"b":2.85},{"m":6,"s":1,"f":431,"r":3.0,"b":3.0},{"m":6,"s":1,"f":460,"r":3.15,"b":3.1},{"m":6,"s":1,"f":489,"r":3.1,"b":3.2},{"m":6,"s":1,"f":518,"r":3.4,"b":3.3},{"m":6,"s":1,"f":547,"r":3.7,"b":3.45},{"m":6,"s":1,"f":576,"r":3.55,"b":3.55},{"m":6,"s":1,"f":605,"r":3.6,"b":3.65},{"m":6,"s":1,"f":634,"r":3.85,"b":3.75},{"m":6,"s":1,"f":663,"r":4.1,"b":3.85},{"m":6,"s":1,"f":692,"r":3.95,"b":3.95},{"m":6,"s":1,"f":721,"r":4.05,"b":4.05},{"m":6,"s":1,"f":750,"r":4.2,"b":4.15},{"m":6,"s":1,"f":779,"r":4.5,"b":4.25},{"m":6,"s":1,"f":808,"r":4.5,"b":4.35},{"m":6,"s":1,"f":837,"r":4.4,"b":4.4},{"m":6,"s":1,"f":866,"r":4.55,"b":4.5},{"m":6,"s":1,"f":895,"r":4.9,"b":4.6},{"m":6,"s":1,"f":924,"r":5.0,"b":4.65},{"m":6,"s":1,"f":953,"r":4.75,"b":4.75},{"m":6,"s":1,"f":982,"r":4.75,"b":4.85},
{"m":6,"s":2,"f":0},{"m":6,"s":2,"f":1000},
{"m":6,"s":2,"f":25,"r":0.95,"b":0.93},{"m":6,"s":2,"f":54,"r":1.3,"b":1.12},{"m":6,"s":2,"f":83,"r":1.4,"b":1.3},{"m":6,"s":2,"f":112,"r":1.45,"b":1.42},{"m":6,"s":2,"f":141,"r":1.5,"b":1.62},{"m":6,"s":2,"f":170,"r":1.75,"b":1.78},{"m":6,"s":2,"f":199,"r":2.05,"b":1.95},{"m":6,"s":2,"f":228,"r":2.15,"b":2.12},{"m":6,"s":2,"f":257,"r":2.1,"b":2.2},{"m":6,"s":2,"f":286,"r":2.3,"b":2.3},{"m":6,"s":2,"f":315,"r":2.6,"b":2.5},{"m":6,"s":2,"f":344,"r":2.7,"b":2.6},{"m":6,"s":2,"f":373,"r":2.65,"b":2.75},{"m":6,"s":2,"f":402,"r":2.8,"b":2.9},{"m":6,"s":2,"f":431,"r":3.1,"b":3.05},{"m":6,"s":2,"f":460,"r":3.25,"b":3.2},{"m":6,"s":2,"f":489,"r":3.15,"b":3.2},{"m":6,"s":2,"f":518,"r":3.35,"b":3.35},{"m":6,"s":2,"f":547,"r":3.65,"b":3.5},{"m":6,"s":2,"f":576,"r":3.7,"b":3.65},{"m":6,"s":2,"f":605,"r":3.6,"b":3.7},{"m":6,"s":2,"f":634,"r":3.85,"b":3.85},{"m":6,"s":2,"f":663,"r":4.05,"b":3.95},{"m":6,"s":2,"f":692,"r":4.0,"b":4.1},{"m":6,"s":2,"f":721,"r":3.95,"b":4.1},{"m":6,"s":2,"f":750,"r":4.15,"b":4.15},{"m":6,"s":2,"f":779,"r":4.55,"b":4.3},{"m":6,"s":2,"f":808,"r":4.45,"b":4.35},{"m":6,"s":2,"f":837,"r":4.3,"b":4.4},{"m":6,"s":2,"f":866,"r":4.65,"b":4.8},{"m":6,"s":2,"f":895,"r":4.9,"b":4.55},{"m":6,"s":2,"f":924,"r":5.0,"b":4.75},{"m":6,"s":2,"f":953,"r":4.8,"b":4.8},{"m":6,"s":2,"f":982,"r":4.85,"b":4.6},
{"m":6,"s":3,"f":0},{"m":6,"s":3,"f":1000},
{"m":6,"s":3,"f":25,"r":0.95,"b":0.9},{"m":6,"s":3,"f":54,"r":1.35,"b":1.12},{"m":6,"s":3,"f":83,"r":1.45,"b":1.28},{"m":6,"s":3,"f":112,"r":1.45,"b":1.45},{"m":6,"s":3,"f":141,"r":1.5,"b":1.6},{"m":6,"s":3,"f":170,"r":1.75,"b":1.8},{"m":6,"s":3,"f":199,"r":2.05,"b":1.92},{"m":6,"s":3,"f":228,"r":2.1,"b":2.1},{"m":6,"s":3,"f":257,"r":2.15,"b":2.1},{"m":6,"s":3,"f":286,"r":2.25,"b":2.4},{"m":6,"s":3,"f":315,"r":2.55,"b":2.5},{"m":6,"s":3,"f":344,"r":2.65,"b":2.65},{"m":6,"s":3,"f":373,"r":2.7,"b":2.75},{"m":6,"s":3,"f":402,"r":2.85,"b":2.8},{"m":6,"s":3,"f":431,"r":3.1,"b":2.75},{"m":6,"s":3,"f":460,"r":3.25,"b":3.1},{"m":6,"s":3,"f":489,"r":3.2,"b":3.2},{"m":6,"s":3,"f":518,"r":3.3,"b":3.3},{"m":6,"s":3,"f":547,"r":3.55,"b":3.15},{"m":6,"s":3,"f":576,"r":3.7,"b":3.3},{"m":6,"s":3,"f":605,"r":3.5,"b":3.6},{"m":6,"s":3,"f":634,"r":3.85,"b":3.75},{"m":6,"s":3,"f":663,"r":4.15,"b":3.9},{"m":6,"s":3,"f":692,"r":4.0,"b":4.0},{"m":6,"s":3,"f":721,"r":3.8,"b":4.35},{"m":6,"s":3,"f":750,"r":4.05,"b":3.75},{"m":6,"s":3,"f":779,"r":4.55,"b":3.95},{"m":6,"s":3,"f":808,"r":4.7,"b":4.3},{"m":6,"s":3,"f":837,"r":4.5,"b":4.95},{"m":6,"s":3,"f":866,"r":4.6,"b":4.4},{"m":6,"s":3,"f":895,"r":5.0,"b":4.6},{"m":6,"s":3,"f":924,"r":5.1,"b":4.1},{"m":6,"s":3,"f":953,"r":4.95,"b":4.05},{"m":6,"s":3,"f":982,"r":4.85,"b":5.3},
{"m":6,"s":4,"f":0},{"m":6,"s":4,"f":1000},
{"m":6,"s":4,"f":25,"r":0.82,"b":0.93},{"m":6,"s":4,"f":54,"r":1.25,"b":1.08},{"m":6,"s":4,"f":83,"r":1.4,"b":1.25},{"m":6,"s":4,"f":112,"r":1.45,"b":1.4},{"m":6,"s":4,"f":141,"r":1.5,"b":1.6},{"m":6,"s":4,"f":170,"r":1.7,"b":1.8},{"m":6,"s":4,"f":199,"r":2.0,"b":1.95},{"m":6,"s":4,"f":228,"r":2.15,"b":2.15},{"m":6,"s":4,"f":257,"r":2.15,"b":2.15},{"m":6,"s":4,"f":286,"r":2.25,"b":2.35},{"m":6,"s":4,"f":315,"r":2.45,"b":2.45},{"m":6,"s":4,"f":344,"r":2.55,"b":2.5},{"m":6,"s":4,"f":373,"r":2.65,"b":2.7},{"m":6,"s":4,"f":402,"r":2.75,"b":2.75},{"m":6,"s":4,"f":431,"r":2.95,"b":2.8},{"m":6,"s":4,"f":460,"r":3.15,"b":3.5},{"m":6,"s":4,"f":489,"r":3.2,"b":3.2},{"m":6,"s":4,"f":518,"r":3.45,"b":4.1},{"m":6,"s":4,"f":547,"r":3.55,"b":3.85},{"m":6,"s":4,"f":576,"r":3.4,"b":3.95},{"m":6,"s":4,"f":605,"r":3.25,"b":3.0},{"m":6,"s":4,"f":634,"r":3.45,"b":4.15},{"m":6,"s":4,"f":663,"r":4.3,"b":3.8},{"m":6,"s":4,"f":692,"r":4.2,"b":4.7},{"m":6,"s":4,"f":721,"r":4.0,"b":3.05},{"m":6,"s":4,"f":750,"r":4.15,"b":3.5},{"m":6,"s":4,"f":779,"r":4.2,"b":3.85},{"m":6,"s":4,"f":808,"r":4.45,"b":4.95},{"m":6,"s":4,"f":837,"r":4.9,"b":4.3},{"m":6,"s":4,"f":866,"r":5.3,"b":5.2},{"m":6,"s":4,"f":895,"r":5.25,"b":4.5},{"m":6,"s":4,"f":924,"r":5.1,"b":4.3},{"m":6,"s":4,"f":953,"r":5.1,"b":4.85},{"m":6,"s":4,"f":982,"r":5.3,"b":4.85}
]},
"data":{"name":"pts"},
"transform":[{"lookup":"f","from":{"data":{"name":"curve"},"key":"f","fields":["c"]}}],
"facet":{
"row":{"field":"m","type":"ordinal","title":null,"header":{"labelExpr":"['','2D-FT','BT','MVDR','Mod. Covariance','MUSIC','Eigenvector'][datum.value]","labelAngle":-90,"labelOrient":"left","labelFont":"DejaVu Serif","labelFontWeight":"bold","labelFontSize":18,"labelColor":"#000000","labelPadding":26}},
"column":{"field":"s","type":"ordinal","title":null,"header":{"labelExpr":"['','(a) 35 dB','(b) 25 dB','(c) 15 dB','(d) 5 dB'][datum.value]","labelFont":"DejaVu Serif","labelFontSize":16,"labelColor":"#000000","labelPadding":35}}
},
"spacing":{"row":45,"column":40.7},
"bounds":"flush",
"resolve":{"axis":{"x":"independent","y":"independent"}},
"spec":{
"width":168,"height":120,
"encoding":{"x":{"field":"f","type":"quantitative","scale":{"domain":[0,1000],"nice":false},"axis":{"values":[0,500,1000],"format":"d","title":"Frequency [Hz]"}}},
"layer":[
{"transform":[{"filter":"isValid(datum.r)"}],"mark":{"type":"circle","color":"#ff0000","size":11,"opacity":1},"encoding":{"y":{"field":"r","type":"quantitative","scale":{"domain":[0,6],"nice":false},"axis":{"values":[0,2,4,6],"title":"Phase velocity [m/s]"}}}},
{"transform":[{"filter":"isValid(datum.b)"}],"mark":{"type":"circle","color":"#0000ff","size":18,"opacity":1},"encoding":{"y":{"field":"b","type":"quantitative","scale":{"domain":[0,6],"nice":false},"axis":{"values":[0,2,4,6],"title":"Phase velocity [m/s]"}}}},
{"mark":{"type":"line","color":"#333333","strokeWidth":1.2},"encoding":{"y":{"field":"c","type":"quantitative","scale":{"domain":[0,6],"nice":false},"axis":{"values":[0,2,4,6],"title":"Phase velocity [m/s]"}}}}
]},
"config":{
"view":{"stroke":null},
"font":"Liberation Sans",
"axis":{"grid":false,"ticks":false,"domainColor":"#8c8c8c","domainWidth":1,"labelColor":"#4d4d4d","titleColor":"#333333","labelFontSize":10.5,"titleFontSize":11,"titleFontWeight":"normal","labelPadding":3,"titlePadding":3,"labelFont":"Liberation Sans","titleFont":"Liberation Sans"}
}
}
